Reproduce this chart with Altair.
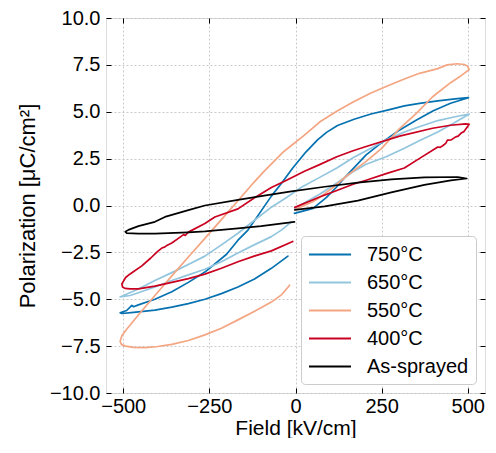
import altair as alt
import pandas as pd

series_names = ["750°C", "650°C", "550°C", "400°C", "As-sprayed"]
series_colors = ["#0571b0", "#92c5de", "#f4a582", "#ca0020", "#000000"]

x_ticks = [-500, -250, 0, 250, 500]
y_ticks = [-10, -7.5, -5, -2.5, 0, 2.5, 5, 7.5, 10]

# 750 °C loop (start near 0 -> +Emax -> -Emax -> back near 0)
E750 = [-3, 51, 90, 118, 147, 205, 250, 300, 350, 400, 450, 490, 502,
        470, 413, 360, 316, 270, 219, 170, 122, 90, 64, 30, -8, -40, -70, -100, -138, -167, -200, -263, -311, -359, -408, -456, -470, -475, -490, -509,
        -504, -470, -408, -359, -311, -263, -215, -167, -119, -70, -22]
P750 = [-0.42, -0.15, 0.43, 0.96, 1.57, 2.7, 3.35, 4.0, 4.55, 5.05, 5.45, 5.68, 5.75,
        5.7, 5.58, 5.45, 5.31, 5.1, 4.88, 4.6, 4.27, 3.9, 3.5, 2.85, 2.0, 1.2, 0.5, -0.3, -1.31, -1.85, -2.6, -3.55, -4.1, -4.6, -5.0, -5.3, -5.4, -5.33, -5.6, -5.72,
        -5.76, -5.7, -5.58, -5.42, -5.23, -5.0, -4.7, -4.35, -3.92, -3.35, -2.7]

# 650 °C loop
E650 = [-2, 70, 120, 167, 205, 263, 316, 359, 413, 460, 504,
        460, 413, 359, 316, 263, 219, 167, 120, 70, 16, -26, -70, -120, -167, -215, -263, -311, -359, -408, -456, -509,
        -480, -456, -408, -359, -311, -263, -215, -167, -120, -70, -40, -12]
P650 = [-0.15, 0.6, 1.2, 1.8, 2.2, 2.6, 3.05, 3.45, 3.92, 4.4, 4.88,
        4.72, 4.53, 4.2, 3.92, 3.5, 3.05, 2.55, 2.0, 1.5, 0.96, 0.43, -0.09, -0.8, -1.48, -2.1, -2.7, -3.15, -3.58, -4.0, -4.45, -4.88,
        -4.8, -4.65, -4.35, -4.0, -3.7, -3.4, -3.0, -2.53, -2.1, -1.66, -1.3, -0.87]

# 550 °C loop
E550 = [0, 50, 70, 109, 150, 205, 250, 302, 350, 398, 450, 475, 504,
        500, 490, 469, 440, 413, 360, 316, 270, 219, 170, 122, 70, 26, -12, -36, -90, -120, -167, -215, -263, -311, -359, -408, -456, -490, -504, -509,
        -505, -493, -470, -436, -400, -359, -311, -263, -215, -167, -120, -70, -40, -17]
P550 = [-0.2, 0.2, 0.43, 0.96, 1.6, 2.35, 3.05, 4.1, 4.9, 5.8, 6.55, 6.85, 7.25,
        7.42, 7.52, 7.56, 7.5, 7.3, 7.05, 6.75, 6.4, 6.0, 5.55, 5.05, 4.45, 3.75, 3.2, 2.85, 1.85, 1.25, 0.25, -0.75, -1.75, -2.75, -3.75, -4.8, -5.84, -6.6, -6.95, -7.25,
        -7.42, -7.5, -7.57, -7.58, -7.52, -7.41, -7.2, -6.9, -6.55, -6.1, -5.65, -5.15, -4.75, -4.25]

# 400 °C loop
E400 = [-2, 70, 120, 167, 205, 263, 316, 359, 413, 420, 428, 436, 441, 452, 465, 472, 480, 489, 499, 504,
        494, 450, 398, 302, 205, 167, 120, 70, 26, -26, -70, -120, -167, -234, -263, -311, -320, -325, -340, -359, -375, -380, -388, -400, -420, -446, -480, -493, -504, -502,
        -495, -480, -456, -408, -359, -311, -263, -215, -167, -120, -70, -8]
P400 = [-0.1, 0.45, 0.8, 1.13, 1.35, 1.7, 2.0, 2.5, 3.12, 3.1, 3.2, 3.31, 3.49, 3.5, 3.66, 3.7, 3.85, 3.95, 4.2, 4.33,
        4.35, 4.28, 4.12, 3.7, 3.15, 2.92, 2.6, 2.18, 1.83, 1.35, 0.96, 0.4, -0.18, -0.61, -0.96, -1.42, -1.6, -1.55, -1.75, -2.0, -2.15, -2.22, -2.27, -2.45, -2.8, -3.22, -3.65, -3.84, -4.18, -4.35,
        -4.42, -4.45, -4.45, -4.3, -4.1, -3.9, -3.66, -3.35, -3.0, -2.7, -2.42, -1.92]

# As-sprayed loop
EAS = [-2, 85, 181, 278, 374, 451, 497,
       471, 374, 278, 181, 85, -12, -100, -167, -263, -311, -379, -408, -456, -485, -494,
       -490, -456, -408, -311, -263, -167, -100, -3]
PAS = [-0.23, -0.05, 0.26, 0.7, 1.1, 1.34, 1.44,
       1.52, 1.5, 1.39, 1.22, 1.0, 0.75, 0.5, 0.3, 0.0, -0.25, -0.61, -0.87, -1.1, -1.3, -1.4,
       -1.47, -1.5, -1.5, -1.43, -1.38, -1.22, -1.1, -0.87]

loops = [(series_names[0], E750, P750), (series_names[1], E650, P650),
         (series_names[2], E550, P550), (series_names[3], E400, P400),
         (series_names[4], EAS, PAS)]

rows = []
for name, es, ps in loops:
    for i, (e, p) in enumerate(zip(es, ps)):
        rows.append({"series": name, "E": e, "P": p, "i": i})
df = pd.DataFrame(rows)

FONT = "Liberation Sans"
FS = 20
xscale = alt.Scale(domain=[-550, 550], nice=False, zero=False)
yscale = alt.Scale(domain=[-10, 10], nice=False, zero=False)

main = alt.Chart(df).mark_line(strokeWidth=1.7, strokeJoin="round", strokeCap="round").encode(
    x=alt.X("E:Q", scale=xscale, title="Field [kV/cm]",
            axis=alt.Axis(values=x_ticks, format="d", ticks=False, domain=False,
                          grid=True, gridDash=[2, 2], gridColor="#bdbdbd", gridWidth=0.8,
                          labelFontSize=FS, labelFont=FONT, labelColor="black", labelPadding=3,
                          titleFontSize=21, titleFont=FONT, titleFontWeight="normal",
                          titleColor="black", titlePadding=1)),
    y=alt.Y("P:Q", scale=yscale, title="Polarization [μC/cm²]",
            axis=alt.Axis(values=y_ticks, format=".1f", ticks=False, domain=False,
                          grid=True, gridDash=[2, 2], gridColor="#bdbdbd", gridWidth=0.8,
                          labelFontSize=FS, labelFont=FONT, labelColor="black", labelPadding=6,
                          titleFontSize=22, titleFont=FONT, titleFontWeight="normal",
                          titleColor="black", titlePadding=10)),
    color=alt.Color("series:N", scale=alt.Scale(domain=series_names, range=series_colors),
                    legend=alt.Legend(title=None, orient="bottom-right", offset=9,
                                      labelFontSize=FS, labelFont=FONT, labelColor="black",
                                      symbolType="M-1,0L3,0", symbolSize=441, symbolStrokeWidth=2,
                                      labelOffset=36, rowPadding=6, padding=7,
                                      fillColor="white", strokeColor="#cccccc", cornerRadius=4,
                                      labelLimit=300)),
    order="i:Q",
)


def tick_layer(xo, yo):
    return alt.Chart(df).mark_point(opacity=0, size=1).encode(
        x=alt.X("E:Q", scale=xscale,
                axis=alt.Axis(orient=xo, offset=-5, values=x_ticks, tickSize=5, tickWidth=1,
                              tickColor="black", labels=False, domain=False, grid=False, title="")),
        y=alt.Y("P:Q", scale=yscale,
                axis=alt.Axis(orient=yo, offset=-5, values=y_ticks, tickSize=5, tickWidth=1,
                              tickColor="black", labels=False, domain=False, grid=False, title="")),
    )


t1 = tick_layer("bottom", "left")
t2 = tick_layer("top", "right")

chart = alt.layer(main, t1, t2).resolve_axis(x="independent", y="independent").properties(
    width=379, height=375,
    autosize=alt.AutoSizeParams(type="none"),
    padding={"left": 98, "top": 10, "right": 3, "bottom": 45},
).configure_view(stroke="#222222", strokeWidth=1).configure(background="white")

chart.save("out.html", embed_options={"renderer": "svg", "actions": False})
